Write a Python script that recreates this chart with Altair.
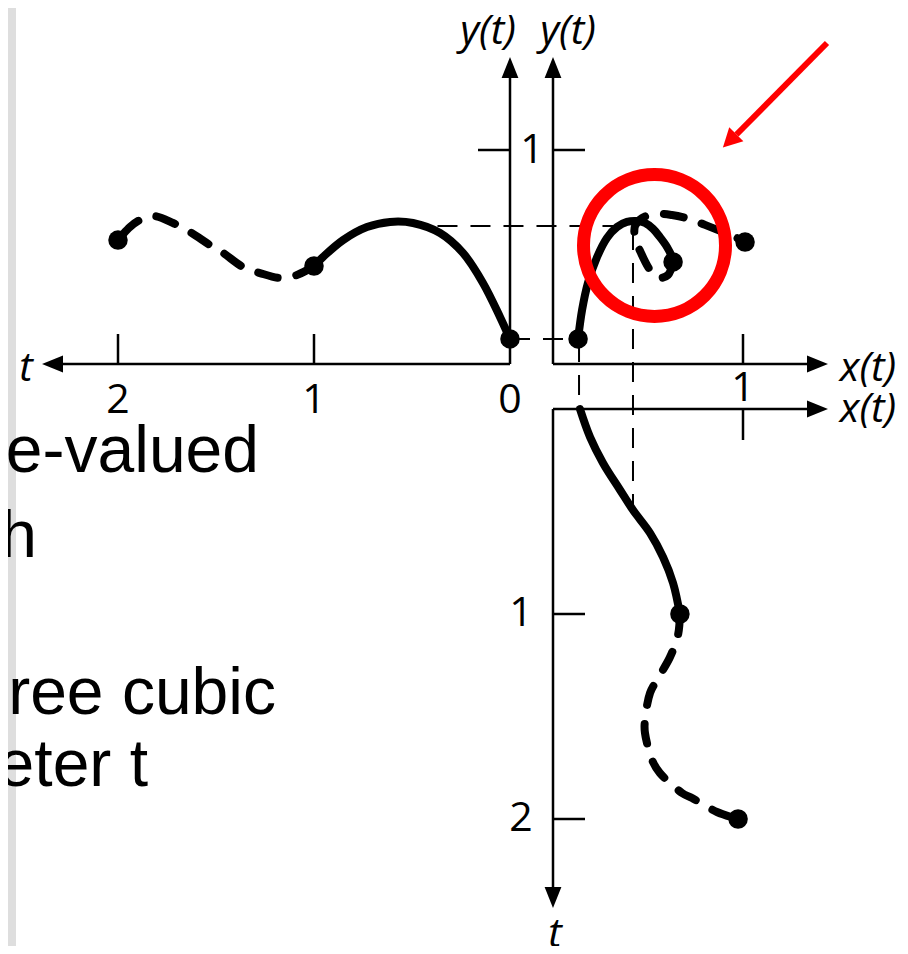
import altair as alt
import pandas as pd

# ------------------------------------------------------------------
# Values
# ------------------------------------------------------------------
# y(t) against t (upper-left panel)
yt_solid_t = [0.0, 0.051, 0.138, 0.240, 0.357, 0.495, 0.612, 0.730, 0.852, 0.954, 1.0]
yt_solid_y = [0.117, 0.220, 0.379, 0.519, 0.612, 0.659, 0.664, 0.640, 0.579, 0.500, 0.458]
yt_dash_t = [1.0, 1.087, 1.173, 1.276, 1.362, 1.464, 1.531, 1.633, 1.719, 1.821, 1.888, 1.939, 2.0]
yt_dash_y = [0.458, 0.416, 0.402, 0.425, 0.453, 0.519, 0.556, 0.617, 0.659, 0.692, 0.673, 0.640, 0.579]

# the curve x(t), y(t) (upper-right panel)
xy_solid_x = [0.132, 0.153, 0.184, 0.232, 0.284, 0.337, 0.389, 0.442, 0.484, 0.526, 0.563, 0.600, 0.626, 0.632]
xy_solid_y = [0.117, 0.252, 0.379, 0.500, 0.589, 0.640, 0.664, 0.668, 0.659, 0.632, 0.593, 0.547, 0.500, 0.477]
xy_dash_x = [0.632, 0.605, 0.553, 0.511, 0.463, 0.432, 0.432, 0.468, 0.542, 0.626, 0.721, 0.800, 0.879, 0.958, 1.011]
xy_dash_y = [0.477, 0.416, 0.402, 0.439, 0.519, 0.589, 0.645, 0.682, 0.701, 0.696, 0.677, 0.650, 0.622, 0.593, 0.570]

# x(t) against t (lower panel, t pointing down)
xt_solid_t = [0.0, 0.137, 0.263, 0.395, 0.493, 0.605, 0.722, 0.849, 1.0]
xt_solid_x = [0.142, 0.195, 0.263, 0.353, 0.421, 0.511, 0.579, 0.632, 0.668]
xt_dash_t = [1.0, 1.102, 1.210, 1.322, 1.385, 1.517, 1.580, 1.722, 1.776, 1.873, 1.898, 1.966, 2.0]
xt_dash_x = [0.668, 0.658, 0.616, 0.547, 0.511, 0.484, 0.484, 0.526, 0.563, 0.679, 0.732, 0.863, 0.974]

# guide values (dashed thin lines)
guide_peak_y = 0.645     # horizontal guide level
guide_peak_t = 0.37      # where it leaves the y(t) curve
guide_peak_x = 0.421     # vertical guide position
guide_peak_y_top = 0.626
guide_peak_t_bottom = 0.49
guide_start_y = 0.117
guide_start_x = 0.137

# tick values and labels
left_t_ticks = [1, 2]
left_t_labels = [0, 1, 2]
y_ticks = [1]
x_ticks = [1]
bottom_t_ticks = [1, 2]

# slide text fragments visible at the left
slide_text = ["e-valued", "h", "ree cubic", "eter t"]

# ------------------------------------------------------------------
# Layout (page pixels)
# ------------------------------------------------------------------
LT0, LTK = 510, 196     # left panel: t=0 at x=510, leftwards
Y0, YK = 364, 214       # y axis (shared by upper panels)
X0, XK = 553, 190       # x axis (shared by right panels)
BT0, BTK = 409, 205     # lower panel: t=0 at y=409, downwards

W, H = 892, 938         # drawing area: page x 8..900, y 8..946


def lx(t):
    return LT0 - LTK * t


def uy(y):
    return Y0 - YK * y


def rx(x):
    return X0 + XK * x


def by(t):
    return BT0 + BTK * t


XS = alt.Scale(domain=[8, 8 + W], nice=False, zero=False)
YS = alt.Scale(domain=[8, 8 + H], nice=False, zero=False, reverse=True)


def X(f="px"):
    return alt.X(f"{f}:Q", scale=XS, axis=None)


def Y(f="py"):
    return alt.Y(f"{f}:Q", scale=YS, axis=None)


def curve_df(xs, ys):
    return pd.DataFrame({"px": xs, "py": ys, "i": list(range(len(xs)))})


curves_solid = [
    curve_df([lx(t) for t in yt_solid_t], [uy(v) for v in yt_solid_y]),
    curve_df([rx(v) for v in xy_solid_x], [uy(v) for v in xy_solid_y]),
    curve_df([rx(v) for v in xt_solid_x], [by(t) for t in xt_solid_t]),
]
curves_dash = [
    curve_df([lx(t) for t in yt_dash_t], [uy(v) for v in yt_dash_y]),
    curve_df([rx(v) for v in xy_dash_x], [uy(v) for v in xy_dash_y]),
    curve_df([rx(v) for v in xt_dash_x], [by(t) for t in xt_dash_t]),
]

dots = pd.DataFrame({
    "px": [lx(yt_solid_t[0]), lx(yt_dash_t[0]), lx(yt_dash_t[-1]),
           rx(xy_solid_x[0]), rx(xy_dash_x[0]), rx(xy_dash_x[-1]),
           rx(xt_dash_x[0]), rx(xt_dash_x[-1])],
    "py": [uy(yt_solid_y[0]), uy(yt_dash_y[0]), uy(yt_dash_y[-1]),
           uy(xy_solid_y[0]), uy(xy_dash_y[0]), uy(xy_dash_y[-1]),
           by(xt_dash_t[0]), by(xt_dash_t[-1])],
})

# arrows: tip and direction (deg, clockwise from up)
arrows = [
    (42, Y0, 270), (LT0, 57, 0), (X0, 57, 0),
    (828, Y0, 90), (828, BT0, 90), (X0, 908, 180),
]
dirs = {0: (0, -1), 90: (1, 0), 180: (0, 1), 270: (-1, 0)}
HEAD = 21
heads = pd.DataFrame({
    "px": [a[0] - dirs[a[2]][0] * HEAD / 2 for a in arrows],
    "py": [a[1] - dirs[a[2]][1] * HEAD / 2 for a in arrows],
    "ang": [a[2] for a in arrows],
})

corners = [(LT0, Y0), (LT0, Y0), (X0, Y0), (X0, Y0), (X0, BT0), (X0, BT0)]
rules = []
for (cx, cy), (tx, ty, a) in zip(corners, arrows):
    dx, dy = dirs[a]
    rules.append((cx, cy, tx - dx * 12, ty - dy * 12))
for t in left_t_ticks:
    rules.append((lx(t), Y0 - 30, lx(t), Y0))
for v in y_ticks:
    rules.append((LT0 - 32, uy(v), LT0, uy(v)))
    rules.append((X0, uy(v), X0 + 32, uy(v)))
for v in x_ticks:
    rules.append((rx(v), Y0 - 30, rx(v), Y0))
    rules.append((rx(v), BT0, rx(v), BT0 + 31))
for t in bottom_t_ticks:
    rules.append((X0, by(t), X0 + 32, by(t)))
rules_df = pd.DataFrame(rules, columns=["px", "py", "px2", "py2"])

guides_df = pd.DataFrame([
    (lx(guide_peak_t), uy(guide_peak_y), rx(guide_peak_x), uy(guide_peak_y)),
    (rx(guide_peak_x), uy(guide_peak_y_top), rx(guide_peak_x), by(guide_peak_t_bottom)),
    (lx(0), uy(guide_start_y), rx(xy_solid_x[0]), uy(guide_start_y)),
    (rx(guide_start_x), uy(guide_start_y) + 3, rx(guide_start_x), BT0),
], columns=["px", "py", "px2", "py2"])

num_labels = pd.DataFrame(
    [(lx(t), 401, str(t)) for t in left_t_labels]
    + [(532, uy(v) + 1, str(v)) for v in y_ticks]
    + [(rx(v), 389, str(v)) for v in x_ticks]
    + [(521, by(t), str(t)) for t in bottom_t_ticks],
    columns=["px", "py", "label"])

ital_labels = pd.DataFrame([
    (488, 32, "y(t)"), (568, 32, "y(t)"),
    (868, 369, "x(t)"), (868, 410, "x(t)"),
    (26, 369, "t"), (555, 935, "t"),
], columns=["px", "py", "label"])

slide_df = pd.DataFrame({
    "px": [259, 37, 276, 148],
    "py": [472, 557, 714, 786],
    "label": slide_text,
})

bands = pd.DataFrame({"px": [8], "px2": [16], "py": [8], "py2": [8 + H]})

red_circle = pd.DataFrame({"px": [654.5], "py": [245.5]})
red_line = pd.DataFrame({"px": [827], "py": [43], "px2": [736.5], "py2": [134.5]})
red_head = pd.DataFrame({"px": [729.6], "py": [140.9], "ang": [225]})

ARROW_PATH = "M0,-1L0.8,1L-0.8,1Z"
RED_HEAD_PATH = "M0,-1L1.05,1L-1.05,1Z"

layers = []
layers.append(alt.Chart(bands).mark_rect(color="#dedede").encode(
    x=X(), x2="px2:Q", y=Y(), y2="py2:Q"))
layers.append(alt.Chart(slide_df).mark_text(
    align="right", baseline="alphabetic", font="Liberation Sans", fontSize=66,
    color="black").encode(x=X(), y=Y(), text="label:N"))
layers.append(alt.Chart(guides_df).mark_rule(
    color="black", strokeWidth=2, strokeDash=[20, 13]).encode(
    x=X(), x2="px2:Q", y=Y(), y2="py2:Q"))
layers.append(alt.Chart(rules_df).mark_rule(color="black", strokeWidth=2.5).encode(
    x=X(), x2="px2:Q", y=Y(), y2="py2:Q"))
layers.append(alt.Chart(heads).mark_point(
    shape=ARROW_PATH, size=HEAD * HEAD, filled=True, color="black", opacity=1,
    strokeWidth=0).encode(x=X(), y=Y(), angle=alt.Angle("ang:Q", scale=None)))
for df in curves_solid:
    layers.append(alt.Chart(df).mark_line(
        color="black", strokeWidth=8, strokeCap="round", interpolate="catmull-rom").encode(
        x=X(), y=Y(), order="i:Q"))
for df in curves_dash:
    layers.append(alt.Chart(df).mark_line(
        color="black", strokeWidth=8, strokeCap="round", strokeDash=[20, 19],
        interpolate="catmull-rom").encode(x=X(), y=Y(), order="i:Q"))
layers.append(alt.Chart(dots).mark_point(
    shape="circle", size=380, filled=True, color="black", opacity=1).encode(x=X(), y=Y()))
layers.append(alt.Chart(num_labels).mark_text(
    font="Open Sans", fontSize=41, color="black", align="center", baseline="middle").encode(
    x=X(), y=Y(), text="label:N"))
layers.append(alt.Chart(ital_labels).mark_text(
    font="Open Sans", fontSize=41, fontStyle="italic", color="black", align="center",
    baseline="middle").encode(x=X(), y=Y(), text="label:N"))
layers.append(alt.Chart(red_circle).mark_point(
    shape="circle", size=142 * 142, filled=False, stroke="#ff0000", strokeWidth=13,
    opacity=1).encode(x=X(), y=Y()))
layers.append(alt.Chart(red_line).mark_rule(color="#ff0000", strokeWidth=6).encode(
    x=X(), x2="px2:Q", y=Y(), y2="py2:Q"))
layers.append(alt.Chart(red_head).mark_point(
    shape=RED_HEAD_PATH, size=19 * 19, filled=True, color="#ff0000", opacity=1,
    strokeWidth=0).encode(x=X(), y=Y(), angle=alt.Angle("ang:Q", scale=None)))

chart = alt.layer(*layers).properties(
    width=W, height=H, autosize=alt.AutoSizeParams(type="none"), padding=0,
    background="white"
).configure_view(strokeWidth=0)

chart.save("out.html", embed_options={"renderer": "svg", "actions": False})
